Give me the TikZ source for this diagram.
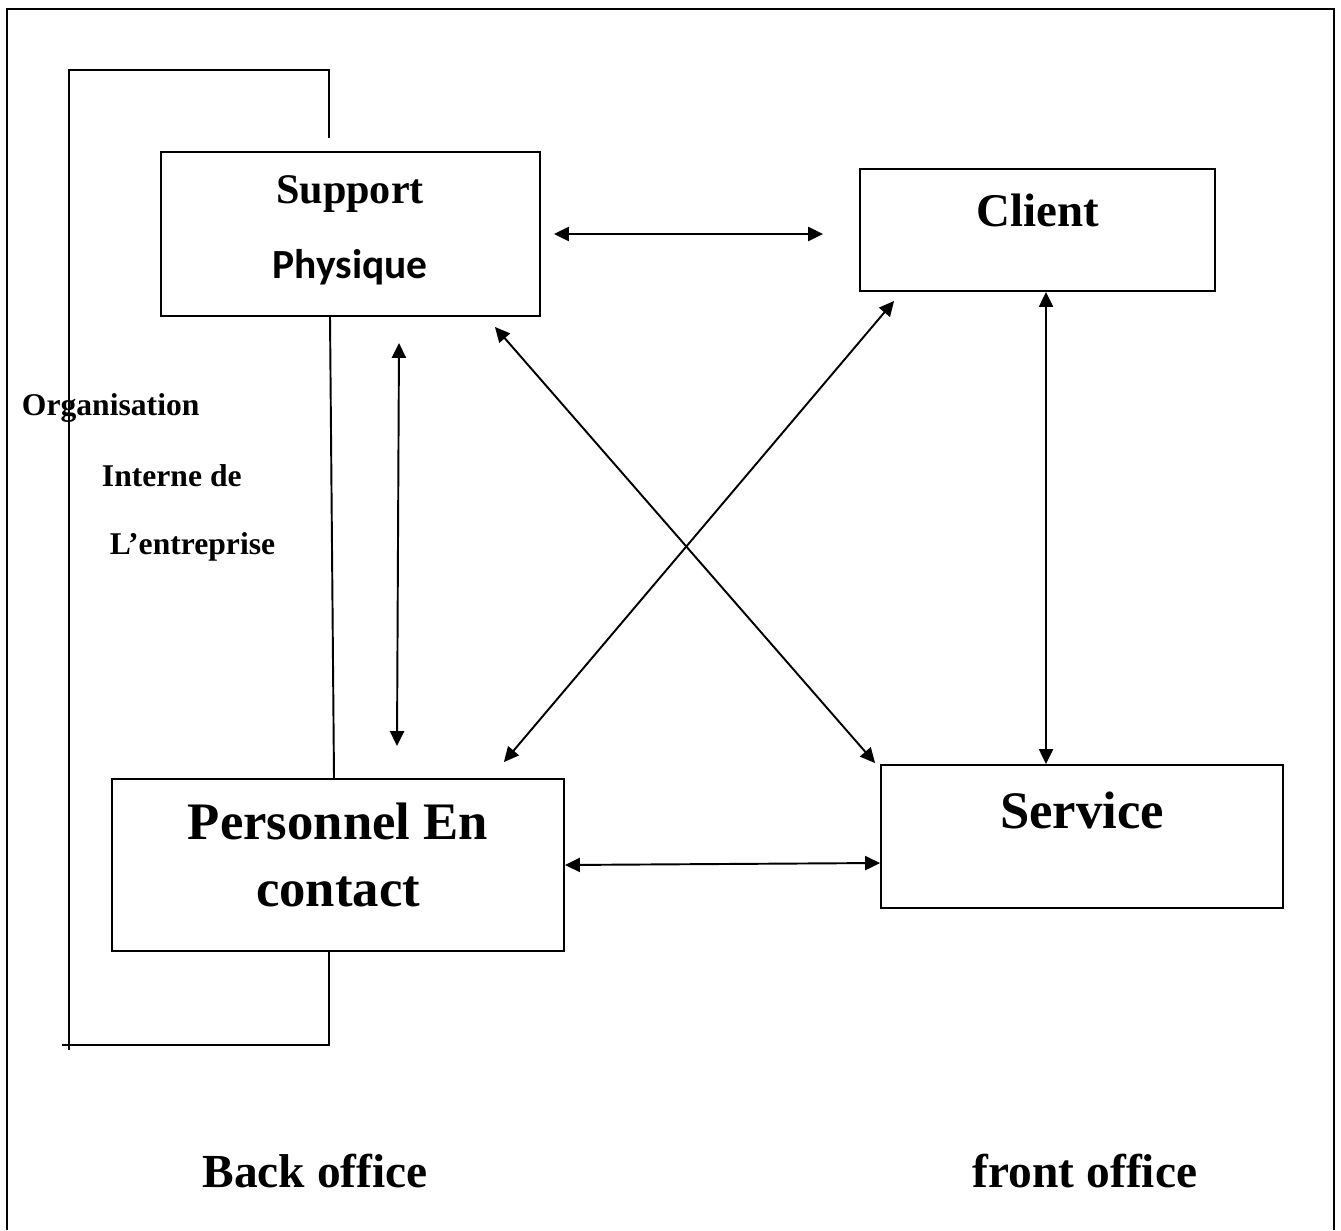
\documentclass[tikz,border=0pt]{standalone}
\usepackage{fontspec}
\setmainfont{Liberation Serif}
\newfontfamily\calibrifont{Carlito}
\usepackage{tikz}
\usetikzlibrary{arrows.meta,positioning}

\begin{document}
\begin{tikzpicture}[x=0.02cm,y=-0.02cm,line width=1.1pt,
    >={Triangle[length=8.5pt,width=8pt]},
    box/.style={draw,rectangle,inner sep=0pt},
    txt/.style={inner sep=0pt,anchor=base,font=\bfseries},
    arr/.style={<->}]

\useasboundingbox (0,0) rectangle (1341,1230);

% cadre
\draw (7,1230) -- (7,9) -- (1334,9) -- (1334,1230);

\node[box,
    minimum width=7.58cm,
    minimum height=3.28cm
] (support) at (350.5,234) {};

\node[box,
    minimum width=7.1cm,
    minimum height=2.44cm
] (client) at (1037.5,230) {};

\node[box,
    minimum width=9.04cm,
    minimum height=3.44cm
] (personnel) at (338,865) {};

\node[box,
    minimum width=8.04cm,
    minimum height=2.86cm
] (service) at (1082,836.5) {};

\node[txt,font=\bfseries\fontsize{24}{28}\selectfont] (supporttxt) at (350,203) {Support};
\node[txt,font=\calibrifont\bfseries\fontsize{23.6}{28}\selectfont] (physiquetxt) at (350,278) {Physique};
\node[txt,font=\bfseries\fontsize{26.7}{30}\selectfont] (clienttxt) at (1038,226) {Client};
\node[txt,font=\bfseries\fontsize{30}{35}\selectfont] (servicetxt) at (1082,828) {Service};
\node[txt,font=\bfseries\fontsize{30}{35}\selectfont] (personneltxt) at (338,839) {Personnel En};
\node[txt,font=\bfseries\fontsize{30}{35}\selectfont] (contacttxt) at (338,906) {contact};

\node[txt,anchor=base west,font=\bfseries\fontsize{18}{22}\selectfont] (orgtxt) at (21,415) {Organisation};
\node[txt,anchor=base west,font=\bfseries\fontsize{18}{22}\selectfont] (internetxt) at (101,486) {Interne de};
\node[txt,anchor=base west,font=\bfseries\fontsize{18}{22}\selectfont] (entreprisetxt) at (109,554) {L’entreprise};

\node[txt,font=\bfseries\fontsize{27}{32}\selectfont] (backtxt) at (315,1187) {Back office};
\node[txt,font=\bfseries\fontsize{27}{32}\selectfont] (fronttxt) at (1085,1187) {front office};

% organisation interne
\coordinate (orgtop) at (329,138);
\coordinate (orgbottom) at (62,1045);
\draw (orgtop) -- (329,70) -- (69,70) -- (69,1050);
\draw ([xshift=-0.18cm]personnel.south) -- ([xshift=-0.18cm]personnel.south |- orgbottom) -- (orgbottom);
\draw ([xshift=-0.41cm]support.south) -- ([xshift=-0.08cm]personnel.north);

% relations
\draw[arr,shorten <=0.26cm,shorten >=0.72cm] (support.east) -- (support.east -| client.west);
\draw[arr] ([xshift=0.97cm,yshift=-0.52cm]support.south) -- ([xshift=1.18cm,yshift=0.64cm]personnel.north);
\draw[arr] ([xshift=-0.92cm,yshift=-0.2cm]support.south east) -- ([xshift=-0.1cm,yshift=0.02cm]service.north west);
\draw[arr] ([xshift=0.7cm,yshift=-0.18cm]client.south west) -- ([xshift=-1.22cm,yshift=0.32cm]personnel.north east);
\draw[arr] ([xshift=0.17cm]client.south) -- ([xshift=0.17cm]client.south |- service.north);
\draw[arr] (personnel.east) -- ([yshift=-0.53cm]service.west);

\end{tikzpicture}
\end{document}
